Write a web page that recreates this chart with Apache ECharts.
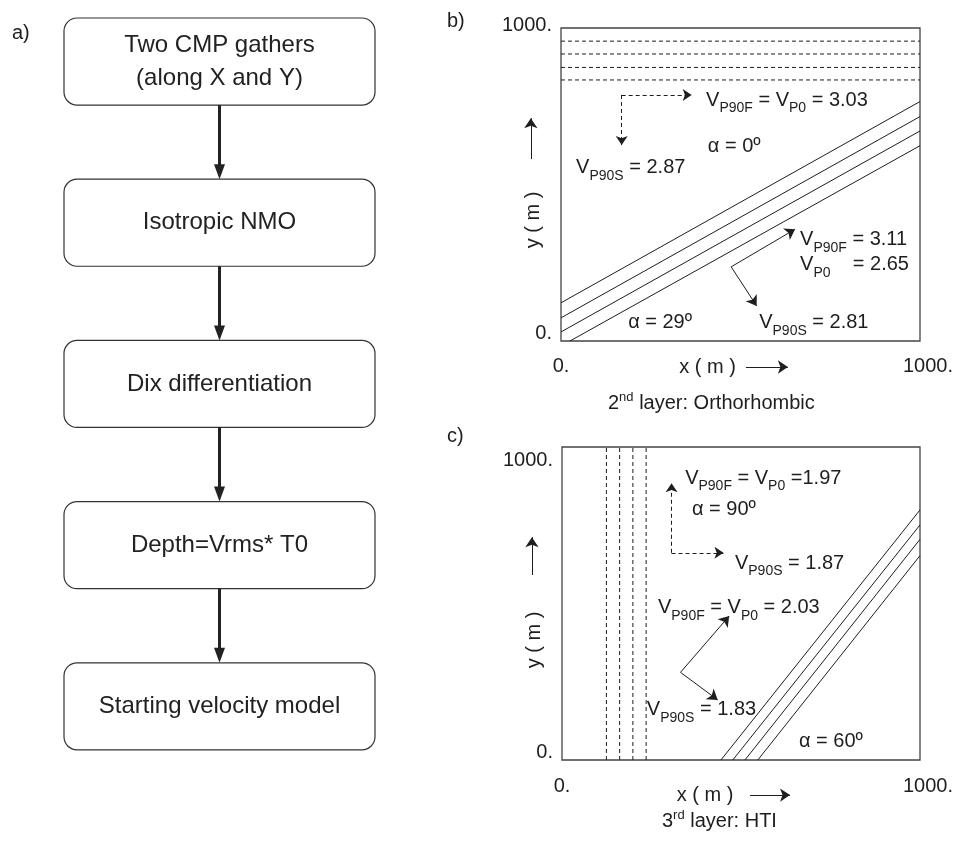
<!DOCTYPE html>
<html>
<head>
<meta charset="utf-8">
<script src="https://cdn.jsdelivr.net/npm/echarts@6/dist/echarts.min.js"></script>
<style>html,body{margin:0;padding:0;background:#fff}#chart{width:964px;height:841px}</style>
</head>
<body>
<div id="chart"></div>
<script>
const FONT = '"Liberation Sans", Arial, Helvetica, sans-serif';
const INK = '#1e1e1e';

// a) flow chart steps
const steps = ['Two CMP gathers\n(along X and Y)', 'Isotropic NMO', 'Dix differentiation', 'Depth=Vrms* T0', 'Starting velocity model'];
const boxFrac = 0.54; // box height as part of one step

// shared axes of b) and c)
const axisRange = [0, 1000];
const tickLabels = ['0.', '1000.'];

// b) 2nd layer
const bDashedY = [958, 917, 874, 834];
const bSolid = [
  [[0, 122], [1000, 765]],
  [[0, 74], [1000, 717]],
  [[0, 29], [1000, 671]],
  [[25, 0], [1000, 624]]
];
const bArrowDashed = [[[169, 786], [364, 786]], [[169, 786], [169, 626]]];
const bArrowSolid = [[[474, 237], [652, 357]], [[474, 237], [545, 112]]];
const bLabelText = [
  'V_{P90F} = V_{P0} = 3.03',
  'α = 0º',
  'V_{P90S} = 2.87',
  'V_{P90F} = 3.11',
  'V_{P0}    = 2.65',
  'α = 29º',
  'V_{P90S} = 2.81'
];
const bLabelPos = [[404, 770], [409, 620], [42, 553], [666, 323], [666, 243], [187, 58], [552, 58]];
const bAxisArrows = [[[515, -83], [632, -83]], [[-84, 581], [-84, 712]]];

// c) 3rd layer
const cDashedX = [124, 161, 198, 235];
const cSolid = [
  [[444, 0], [1000, 799]],
  [[477, 0], [1000, 751]],
  [[511, 0], [1000, 705]],
  [[547, 0], [1000, 653]]
];
const cArrowDashed = [[[306, 662], [306, 884]], [[306, 662], [451, 662]]];
const cArrowSolid = [[[331, 280], [467, 460]], [[331, 280], [435, 192]]];
const cLabelText = [
  'V_{P90F} = V_{P0} =1.97',
  'α = 90º',
  'V_{P90S} = 1.87',
  'V_{P90F} = V_{P0} = 2.03',
  'V_{P90S} = 1.83',
  'α = 60º'
];
const cLabelPos = [[344, 901], [363, 799], [483, 629], [268, 486], [237, 160], [662, 58]];
const cAxisArrows = [[[525, -112], [637, -112]], [[-84, 591], [-84, 712]]];

// turn "V_{P0}" / "2^{nd}" into rich text
function rich(str) {
  return str.split(/(_\{[^}]*\}|\^\{[^}]*\})/).filter(Boolean).map(p => {
    if (p.startsWith('_{')) return '{s|' + p.slice(2, -1) + '}';
    if (p.startsWith('^{')) return '{u|' + p.slice(2, -1) + '}';
    return '{n|' + p + '}';
  }).join('');
}
const richStyles = {
  n: { fontSize: 20, fontFamily: FONT, color: INK },
  s: { fontSize: 14, fontFamily: FONT, color: INK, padding: [16, 0, 0, 0] },
  u: { fontSize: 13, fontFamily: FONT, color: INK, padding: [0, 0, 12, 0] }
};

const grids = [
  { left: 561, top: 28, width: 359, height: 313 },
  { left: 562, top: 447, width: 358, height: 313 },
  { left: 64, top: 18, width: 311, height: 806 }
];

function xAxisFor(gi, nameGap, namePad, labelMargin) {
  return {
    gridIndex: gi, type: 'value', min: axisRange[0], max: axisRange[1], interval: 1000,
    name: 'x ( m )', nameLocation: 'middle', nameGap: nameGap, nameMoveOverlap: false,
    nameTextStyle: { fontSize: 20, fontFamily: FONT, color: INK, padding: [0, namePad, 0, 0] },
    axisLine: { show: false }, axisTick: { show: false }, splitLine: { show: false },
    axisLabel: {
      margin: labelMargin,
      formatter: v => v === 0 ? '{a|' + tickLabels[0] + '}' : '{b|' + tickLabels[1] + '}',
      rich: {
        a: { fontSize: 20, fontFamily: FONT, color: INK },
        b: { fontSize: 20, fontFamily: FONT, color: INK, padding: [0, 0, 0, 16] }
      }
    }
  };
}
function yAxisFor(gi, namePad, topPad, botPad) {
  return {
    gridIndex: gi, type: 'value', min: axisRange[0], max: axisRange[1], interval: 1000,
    name: 'y ( m )', nameLocation: 'middle', nameGap: 18, nameRotate: 90, nameMoveOverlap: false,
    nameTextStyle: { fontSize: 20, fontFamily: FONT, color: INK, padding: [0, namePad, 0, 0] },
    axisLine: { show: false }, axisTick: { show: false }, splitLine: { show: false },
    axisLabel: {
      margin: 9,
      formatter: v => v === 0 ? '{a|' + tickLabels[0] + '}' : '{b|' + tickLabels[1] + '}',
      rich: {
        a: { fontSize: 20, fontFamily: FONT, color: INK, padding: [0, 0, botPad, 0] },
        b: { fontSize: 20, fontFamily: FONT, color: INK, padding: topPad }
      }
    }
  };
}

function panelSeries(gi, p) {
  const out = [];
  const seg = (data, dashed) => ({
    type: 'line', xAxisIndex: gi, yAxisIndex: gi, data: data, showSymbol: false, silent: true,
    lineStyle: { color: INK, width: 1, type: dashed ? [4, 3] : 'solid' }
  });
  p.dashed.forEach(d => out.push(seg(d, true)));
  p.solid.forEach(d => out.push(seg(d, false)));
  const arrows = (list, dashed, clip) => ({
    type: 'lines', coordinateSystem: 'cartesian2d', xAxisIndex: gi, yAxisIndex: gi,
    clip: clip, silent: true, symbol: ['none', 'arrow'], symbolSize: dashed ? 9 : 10,
    lineStyle: { color: INK, width: 1, opacity: 1, type: dashed ? [4, 3] : 'solid' },
    data: list.map(c => ({ coords: c }))
  });
  out.push(arrows(p.arrowDashed, true, true));
  out.push(arrows(p.arrowSolid, false, true));
  out.push(arrows(p.axisArrows, false, false));
  out.push({
    type: 'scatter', xAxisIndex: gi, yAxisIndex: gi, symbolSize: 0, silent: true,
    itemStyle: { color: INK, opacity: 1 },
    data: p.labelPos.map((pos, i) => ({ value: pos, label: { formatter: rich(p.labelText[i]) } })),
    label: { show: true, position: 'right', distance: 0, color: INK, opacity: 1, rich: richStyles }
  });
  return out;
}

const flowSeries = {
  type: 'custom', xAxisIndex: 2, yAxisIndex: 2, silent: true,
  data: steps.map((s, i) => [0.5, i]),
  renderItem: function (params, api) {
    const i = api.value(1);
    const tl = api.coord([0, i]);
    const br = api.coord([1, i + boxFrac]);
    const cx = (tl[0] + br[0]) / 2;
    const children = [
      { type: 'rect', shape: { x: tl[0], y: tl[1], width: br[0] - tl[0], height: br[1] - tl[1], r: 13 },
        style: { fill: '#fff', stroke: '#333', lineWidth: 1.2 } },
      { type: 'text', style: { text: steps[i], x: cx, y: (tl[1] + br[1]) / 2, align: 'center', verticalAlign: 'middle',
        fontSize: 24, lineHeight: 33, fontFamily: FONT, fill: '#222' } }
    ];
    if (i < steps.length - 1) {
      const ny = api.coord([0, i + 1])[1];
      children.push({ type: 'line', shape: { x1: cx, y1: br[1], x2: cx, y2: ny - 12 }, style: { stroke: '#222', lineWidth: 3 } });
      children.push({ type: 'polygon', shape: { points: [[cx - 5.5, ny - 15], [cx + 5.5, ny - 15], [cx, ny]] }, style: { fill: '#222' } });
    }
    return { type: 'group', children: children };
  }
};

const chart = echarts.init(document.getElementById('chart'), null, { renderer: 'canvas' });
const titleStyle = { fontSize: 20, fontWeight: 'normal', fontFamily: FONT, color: INK, rich: richStyles };
chart.setOption({
  backgroundColor: '#fff',
  animation: false,
  title: [
    { text: 'a)', left: 7, top: 18, textStyle: titleStyle },
    { text: 'b)', left: 442, top: 6, textStyle: titleStyle },
    { text: 'c)', left: 442, top: 421, textStyle: titleStyle },
    { text: rich('2^{nd} layer: Orthorhombic'), left: 603, top: 386, textStyle: titleStyle },
    { text: rich('3^{rd} layer: HTI'), left: 657, top: 804, textStyle: titleStyle }
  ],
  grid: grids.map((g, i) => Object.assign({ show: i < 2, borderColor: '#444', borderWidth: 1.3, backgroundColor: 'transparent' }, g)),
  xAxis: [
    xAxisFor(0, 16, 66, 15),
    xAxisFor(1, 25, 72, 16),
    { gridIndex: 2, type: 'value', min: 0, max: 1, show: false }
  ],
  yAxis: [
    yAxisFor(0, 71, [0, 0, 6, 0], 16),
    yAxisFor(1, 73, [26, 0, 0, 0], 16),
    { gridIndex: 2, type: 'value', min: 0, max: steps.length, inverse: true, show: false }
  ],
  series: [].concat(
    panelSeries(0, {
      dashed: bDashedY.map(y => [[axisRange[0], y], [axisRange[1], y]]),
      solid: bSolid, arrowDashed: bArrowDashed, arrowSolid: bArrowSolid,
      axisArrows: bAxisArrows, labelText: bLabelText, labelPos: bLabelPos
    }),
    panelSeries(1, {
      dashed: cDashedX.map(x => [[x, axisRange[0]], [x, axisRange[1]]]),
      solid: cSolid, arrowDashed: cArrowDashed, arrowSolid: cArrowSolid,
      axisArrows: cAxisArrows, labelText: cLabelText, labelPos: cLabelPos
    }),
    [flowSeries]
  )
});
</script>
</body>
</html>
